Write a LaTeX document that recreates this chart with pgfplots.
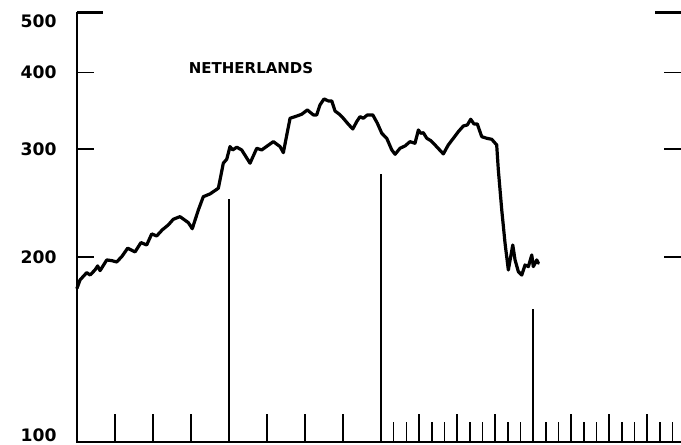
\documentclass[border=0pt]{standalone}
\usepackage{pgfplots}
\pgfplotsset{compat=1.18}
\usepackage{fontspec}
\setmainfont{DejaVu Sans}
\begin{document}
\begin{tikzpicture}
\useasboundingbox (-38.5pt,-1.5pt) rectangle (302pt,221pt);
\begin{axis}[
  at={(0,0)}, anchor=south west,
  scale only axis, width=302pt, height=214.5pt,
  xmin=0, xmax=47.68, ymin=100, ymax=500, ymode=log,
  axis line style={draw=none},
  clip=false,
  tick align=inside,
  ytick={200,300,400}, yticklabels={200,300,400},
  minor y tick num=0,
  ytick pos=both, yticklabel pos=left,
  ytick style={black, line width=0.85pt, /pgfplots/major tick length=8.5pt},
  yticklabel style={font=\bfseries\fontsize{8.6pt}{10pt}\selectfont, inner sep=0pt, xshift=-10pt},
  xtick={3,6,9,15,18,21,27,30,33,39,42,45}, xticklabels={},
  xtick pos=left,
  xtick style={black, line width=0.8pt, /pgfplots/major tick length=14pt},
  minor xtick={25,26,28,29,31,32,34,35,37,38,40,41,43,44,46,47},
  minor tick length=10pt,
  minor tick style={black, line width=0.8pt},
]
\addplot[black, line width=1.6pt, line join=round, line cap=round] coordinates {
(0,178) (0.24,183.7) (0.77,188.8) (1.03,187.1) (1.42,190.7) (1.63,193.6) (1.82,190.2) (2.35,198.0) (2.74,197.5) (3.13,196.5) (3.53,200.4) (4.00,206.9) (4.58,204.0) (5.05,211.3) (5.50,209.4) (5.90,218.3) (6.29,216.6) (6.73,221.6) (7.21,225.8) (7.60,230.6) (8.13,232.9) (8.79,227.7) (9.10,222.6) (9.58,238.8) (9.97,251.0) (10.50,253.6) (11.16,259.1) (11.55,284.6) (11.82,288.9) (12.08,302.9) (12.29,299.1) (12.61,302.2) (13.00,299.1) (13.66,284.6) (14.19,301.0) (14.58,299.1) (15.50,308.6) (16.03,302.9) (16.29,296.1) (16.56,316.4) (16.82,336.9) (17.21,338.9) (17.74,342.0) (18.18,347.5) (18.66,341.1) (18.92,341.1) (19.18,354.1) (19.50,362.2) (19.84,359.5) (20.11,359.5) (20.37,346.2) (20.71,342.0) (21.02,336.9) (21.42,329.4) (21.77,323.6) (22.08,332.6) (22.34,338.9) (22.60,336.9) (22.92,341.1) (23.35,341.1) (23.71,330.6) (24.06,318.4) (24.45,312.5) (24.85,299.1) (25.11,294.3) (25.50,301.0) (25.90,303.7) (26.29,308.6) (26.68,306.7) (26.95,322.4) (27.13,318.4) (27.34,319.1) (27.61,312.5) (27.92,309.8) (28.26,304.8) (28.92,294.7) (29.31,304.8) (29.71,312.5) (30.10,320.3) (30.50,327.3) (30.81,328.5) (31.08,335.6) (31.34,329.7) (31.60,329.7) (31.95,314.4) (32.35,312.5) (32.74,311.3) (33.13,304.8) (33.26,277.5) (33.53,238.8) (33.79,210.8) (34.05,190.7) (34.40,209.4) (34.58,198.0) (34.84,189.5) (35.11,187.1) (35.37,194.3) (35.63,193.1) (35.90,201.7) (36.02,193.1) (36.29,198.0) (36.42,195.5)
};
\addplot[black, line width=0.7pt] coordinates {(12,100) (12,249)};
\addplot[black, line width=0.7pt] coordinates {(24,100) (24,273)};
\addplot[black, line width=0.7pt] coordinates {(36,100) (36,165)};
\draw[line width=1.1pt, line cap=rect] (rel axis cs:0,1) -- (rel axis cs:0,0) -- (rel axis cs:1,0);
\draw[line width=1.5pt] (rel axis cs:0,1) -- ++(13pt,0pt);
\draw[line width=1.5pt] (rel axis cs:1,1) -- ++(-13pt,0pt);
\node[anchor=east, inner sep=0pt, xshift=-10pt, yshift=-4pt, font=\bfseries\fontsize{8.6pt}{10pt}\selectfont] at (rel axis cs:0,1) {500};
\node[anchor=east, inner sep=0pt, xshift=-10pt, yshift=3.2pt, font=\bfseries\fontsize{8.6pt}{10pt}\selectfont] at (rel axis cs:0,0) {100};
\node[inner sep=0pt, font=\bfseries\fontsize{7.5pt}{9pt}\selectfont] at (axis cs:13.74,406) {NETHERLANDS};
\end{axis}
\end{tikzpicture}
\end{document}
